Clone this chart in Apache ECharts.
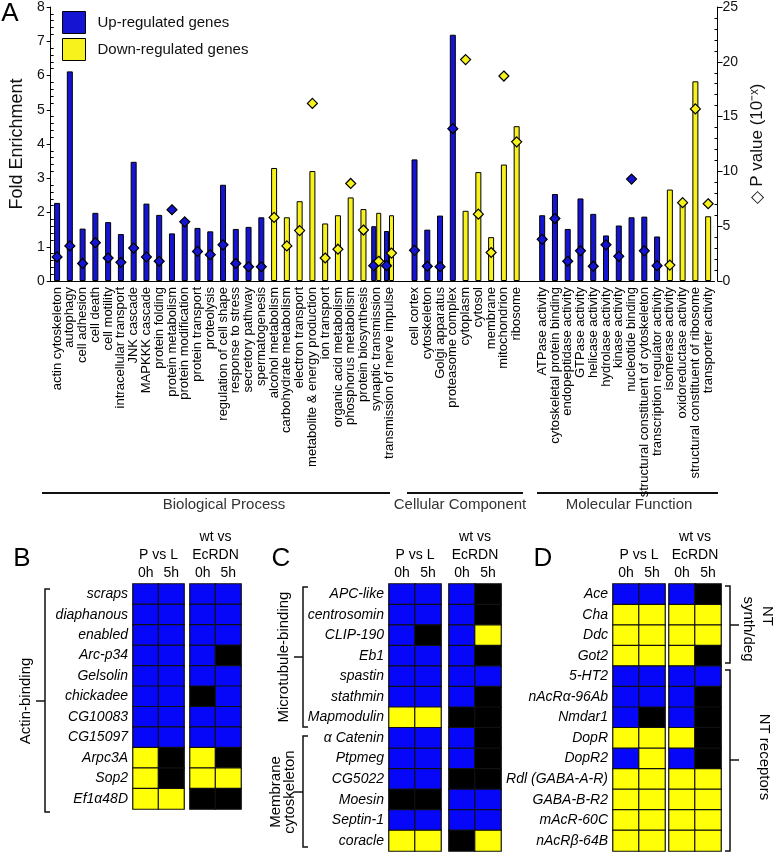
<!DOCTYPE html>
<html>
<head>
<meta charset="utf-8">
<script src="https://cdn.jsdelivr.net/npm/echarts@6/dist/echarts.min.js"></script>
<style>
html, body { margin: 0; padding: 0; background: #fff; }
#chart { width: 774px; height: 853px; }
</style>
</head>
<body>
<div id="chart"></div>
<script>
// panel A: GO terms, '' and ' ' are the empty slots between the three groups
const categories = [
  'actin cytoskeleton', 'autophagy', 'cell adhesion', 'cell death', 'cell motility',
  'intracellular transport', 'JNK cascade', 'MAPKKK cascade', 'protein folding',
  'protein metabolism', 'protein modification', 'protein transport', 'proteolysis',
  'regulation of cell shape', 'response to stress', 'secretory pathway', 'spermatogenesis',
  'alcohol metabolism', 'carbohydrate metabolism', 'electron transport',
  'metabolite & energy production', 'ion transport', 'organic acid metabolism',
  'phosphorus metabolism', 'protein biosynthesis', 'synaptic transmission',
  'transmission of nerve impulse', '',
  'cell cortex', 'cytoskeleton', 'Golgi apparatus', 'proteasome complex', 'cytoplasm',
  'cytosol', 'membrane', 'mitochondrion', 'ribosome', ' ',
  'ATPase activity', 'cytoskeletal protein binding', 'endopeptidase activity',
  'GTPase activity', 'helicase activity', 'hydrolase activity', 'kinase activity',
  'nucleotide binding', 'structural constituent of cytoskeleton',
  'transcription regulator activity', 'isomerase activity', 'oxidoreductase activity',
  'structural constituent of ribosome', 'transporter activity'
];

const upFold = [
  2.28, 6.12, 1.53, 1.99, 1.72, 1.37, 3.48, 2.26, 1.93, 1.39, 1.65, 1.55, 1.45, 2.81, 1.52, 1.58, 1.86,
  null, null, null, null, null, null, null, null, 1.60, 1.46, null,
  3.55, 1.50, 1.91, 7.19, null, null, null, null, null, null,
  1.92, 2.54, 1.52, 2.41, 1.96, 1.33, 1.62, 1.86, 1.88, 1.30, null, null, null, null
];
const downFold = [
  null, null, null, null, null, null, null, null, null, null, null, null, null, null, null, null, null,
  3.30, 1.86, 2.33, 3.21, 1.68, 1.92, 2.44, 2.10, 1.99, 1.92, null,
  null, null, null, null, 2.05, 3.18, 1.28, 3.40, 4.52, null,
  null, null, null, null, null, null, null, null, null, null, 2.67, 2.30, 5.83, 1.89
];
const upP = [
  2.2, 3.2, 1.6, 3.5, 2.1, 1.7, 3.0, 2.2, 1.8, 6.5, 5.4, 2.7, 2.4, 3.3, 1.6, 1.3, 1.3,
  null, null, null, null, null, null, null, null, 1.4, 1.4, null,
  2.8, 1.35, 1.3, 13.9, null, null, null, null, null, null,
  3.8, 5.7, 1.8, 2.75, 1.35, 3.3, 2.25, 9.3, 2.75, 1.4, null, null, null, null
];
const downP = [
  null, null, null, null, null, null, null, null, null, null, null, null, null, null, null, null, null,
  5.8, 3.2, 4.6, 16.2, 2.1, 2.9, 8.9, 4.65, 1.8, 2.55, null,
  null, null, null, null, 20.2, 6.1, 2.6, 18.7, 12.7, null,
  null, null, null, null, null, null, null, null, null, null, 1.45, 7.15, 15.7, 7.05
];

// panels B-D: 1 = up (blue), -1 = down (yellow), 0 = not changed (black)
// columns: P vs L 0h, 5h, wt vs EcRDN 0h, 5h
const timeLabels = ['0h', '5h'];
const bGenes = ['scraps', 'diaphanous', 'enabled', 'Arc-p34', 'Gelsolin', 'chickadee',
  'CG10083', 'CG15097', 'Arpc3A', 'Sop2', 'Ef1α48D'];
const bCalls = [
  [1, 1, 1, 1], [1, 1, 1, 1], [1, 1, 1, 1], [1, 1, 1, 0], [1, 1, 1, 1], [1, 1, 0, 1],
  [1, 1, 1, 1], [1, 1, 1, 1], [-1, 0, -1, 0], [-1, 0, -1, -1], [-1, -1, 0, 0]
];
const cGenes = ['APC-like', 'centrosomin', 'CLIP-190', 'Eb1', 'spastin', 'stathmin',
  'Mapmodulin', 'α Catenin', 'Ptpmeg', 'CG5022', 'Moesin', 'Septin-1', 'coracle'];
const cCalls = [
  [1, 1, 1, 0], [1, 1, 1, 0], [1, 0, 1, -1], [1, 1, 1, 0], [1, 1, 1, 1], [1, 1, 1, 0],
  [-1, -1, 0, 0], [1, 1, 1, 0], [1, 1, 1, 0], [1, 1, 0, 0], [0, 0, 1, 1], [1, 1, 1, 1],
  [-1, -1, 0, -1]
];
const dGenes = ['Ace', 'Cha', 'Ddc', 'Got2', '5-HT2', 'nAcRα-96Ab', 'Nmdar1', 'DopR',
  'DopR2', 'Rdl (GABA-A-R)', 'GABA-B-R2', 'mAcR-60C', 'nAcRβ-64B'];
const dCalls = [
  [1, 1, 1, 0], [-1, -1, -1, -1], [-1, -1, -1, -1], [-1, -1, -1, 0], [1, 1, 1, 1],
  [1, 1, 1, 0], [1, 0, 1, 0], [-1, -1, -1, 0], [1, -1, 1, 0], [-1, -1, -1, -1],
  [-1, -1, -1, -1], [-1, -1, -1, -1], [-1, -1, -1, -1]
];

const BLUE = '#1414d2';
const YELLOW = '#f7f21c';
const CELL_BLUE = '#0606f8';
const CELL_YELLOW = '#ffff08';
const FONT = 'Liberation Sans';

// a term has side-by-side bars when both lists have a value
const paired = categories.map((c, i) => upFold[i] != null && downFold[i] != null);
const soloUp = upFold.map((v, i) => paired[i] ? null : v);
const soloDown = downFold.map((v, i) => paired[i] ? null : v);
const pairUp = upFold.map((v, i) => paired[i] ? v : null);
const pairDown = downFold.map((v, i) => paired[i] ? v : null);

const diamonds = (vals, shift) => vals
  .map((v, i) => v == null ? null : { value: [i, v], symbolOffset: [paired[i] ? shift : 0, 0] })
  .filter(d => d);

const blockData = (calls, from) => {
  const out = [];
  calls.forEach((row, r) => {
    out.push([0, r, row[from]]);
    out.push([1, r, row[from + 1]]);
  });
  return out;
};

// heatmap blocks [left, top, width, height]
const blocks = [
  { genes: bGenes, calls: bCalls, left: [133, 584, 51, 225], right: [190, 584, 51, 225] },
  { genes: cGenes, calls: cCalls, left: [389, 584, 52, 267], right: [449, 584, 52, 267] },
  { genes: dGenes, calls: dCalls, left: [613, 584, 52, 267], right: [669, 584, 52, 267] }
];

const grids = [{ left: 42, top: 5, width: 677, height: 276 }];
const xAxes = [
  {
    type: 'category', data: categories, gridIndex: 0,
    axisLine: { lineStyle: { color: '#000', width: 1 } },
    axisTick: { interval: 0, length: 5, lineStyle: { color: '#000' } },
    axisLabel: { interval: 0, rotate: 90, fontSize: 13, margin: 6, color: '#000', fontFamily: FONT }
  },
  { type: 'category', data: categories, gridIndex: 0, show: false }
];
const yAxes = [
  {
    type: 'value', gridIndex: 0, min: 0, max: 8, interval: 1,
    axisLine: { show: true, lineStyle: { color: '#000' } },
    axisTick: { show: true, length: 4, lineStyle: { color: '#000' } },
    minorTick: { show: true, splitNumber: 5, length: -3, lineStyle: { color: '#000' } },
    splitLine: { show: false },
    axisLabel: { fontSize: 14, margin: 6, color: '#111', fontFamily: FONT },
    name: 'Fold Enrichment', nameLocation: 'middle', nameGap: 16,
    nameTextStyle: { fontSize: 18, color: '#111', fontFamily: FONT }
  },
  {
    type: 'value', gridIndex: 0, position: 'right', offset: 3, min: 0, max: 25, interval: 5,
    axisLine: { show: true, lineStyle: { color: '#000' } },
    axisTick: { show: true, length: 5, lineStyle: { color: '#000' } },
    minorTick: { show: true, splitNumber: 5, length: -3, lineStyle: { color: '#000' } },
    splitLine: { show: false },
    axisLabel: { fontSize: 14, margin: 5, color: '#111', fontFamily: FONT },
    name: '◇ P value (10⁻ˣ)', nameLocation: 'middle', nameGap: 28, nameRotate: 90,
    nameTextStyle: { fontSize: 17, color: '#111', fontFamily: FONT }
  }
];
const heatSeries = [];

blocks.forEach(b => {
  [['left', 'P vs L', 0], ['right', 'wt vs\nEcRDN', 2]].forEach(([side, title, from]) => {
    const g = grids.length;
    const box = b[side];
    grids.push({ left: box[0], top: box[1], width: box[2], height: box[3] });
    xAxes.push({
      type: 'category', data: timeLabels, gridIndex: g, position: 'top',
      axisLine: { show: false }, axisTick: { show: false },
      axisLabel: { fontSize: 14, margin: 4, color: '#000', fontFamily: FONT },
      name: title, nameLocation: 'middle', nameGap: 20,
      nameTextStyle: { fontSize: 14, lineHeight: 18, color: '#000', fontFamily: FONT }
    });
    yAxes.push({
      type: 'category', data: b.genes, gridIndex: g, inverse: true,
      axisLine: { show: false }, axisTick: { show: false },
      axisLabel: {
        show: side === 'left', fontSize: 14, margin: 5, fontStyle: 'italic',
        color: '#000', fontFamily: FONT
      }
    });
    heatSeries.push({
      type: 'heatmap', xAxisIndex: xAxes.length - 1, yAxisIndex: yAxes.length - 1,
      data: blockData(b.calls, from),
      itemStyle: { borderColor: '#111', borderWidth: 1.2 },
      emphasis: { disabled: true }
    });
  });
});

const barStyle = (color) => ({ color: color, borderColor: '#000', borderWidth: 1 });

const series = [
  { name: 'Up-regulated genes', type: 'bar', xAxisIndex: 0, yAxisIndex: 0, data: soloUp,
    barWidth: 6, barGap: '-100%', itemStyle: barStyle(BLUE) },
  { name: 'Down-regulated genes', type: 'bar', xAxisIndex: 0, yAxisIndex: 0, data: soloDown,
    barWidth: 6, barGap: '-100%', itemStyle: barStyle(YELLOW) },
  { name: 'Up-regulated genes', type: 'bar', xAxisIndex: 1, yAxisIndex: 0, data: pairUp,
    barWidth: 5, barGap: 0, itemStyle: barStyle(BLUE) },
  { name: 'Down-regulated genes', type: 'bar', xAxisIndex: 1, yAxisIndex: 0, data: pairDown,
    barWidth: 5, barGap: 0, itemStyle: barStyle(YELLOW) },
  { name: 'up P', type: 'scatter', xAxisIndex: 0, yAxisIndex: 1, data: diamonds(upP, -2.5),
    symbol: 'diamond', symbolSize: [10, 10], z: 5,
    itemStyle: { color: BLUE, borderColor: '#000', borderWidth: 1.2, opacity: 1 } },
  { name: 'down P', type: 'scatter', xAxisIndex: 0, yAxisIndex: 1, data: diamonds(downP, 2.5),
    symbol: 'diamond', symbolSize: [10, 10], z: 5,
    itemStyle: { color: YELLOW, borderColor: '#000', borderWidth: 1.2, opacity: 1 } }
].concat(heatSeries);

const heatIdx = heatSeries.map((s, i) => 6 + i);

const txt = (x, y, text, size, extra) => ({
  type: 'text', x: x, y: y,
  style: Object.assign({ text: text, fontSize: size, fontFamily: FONT, fill: '#000',
    align: 'center', verticalAlign: 'middle' }, extra || {})
});
const rotTxt = (x, y, text, size, rot) => ({
  type: 'text', x: x, y: y, rotation: rot,
  style: { text: text, fontSize: size, fontFamily: FONT, fill: '#000', align: 'center',
    verticalAlign: 'middle', lineHeight: 14 }
});
const line = (pts, w) => ({
  type: 'polyline', shape: { points: pts },
  style: { stroke: '#111', lineWidth: w || 1.5, fill: null }
});
// bracket opening towards the heatmap; dir = 1 opens right, -1 opens left
const bracket = (x, top, bottom, mid, dir) => [
  line([[x + 5 * dir, top], [x, top], [x, bottom], [x + 5 * dir, bottom]]),
  line([[x, mid], [x - 9 * dir, mid]])
];

const graphics = [
  txt(10, 14, 'A', 26), txt(22, 559, 'B', 26), txt(281, 559, 'C', 26), txt(543, 559, 'D', 26),
  line([[42, 493], [390, 493]], 2), line([[407, 493], [523, 493]], 2), line([[537, 493], [718, 493]], 2),
  txt(224, 505, 'Biological Process', 15, { fill: '#333' }),
  txt(460, 505, 'Cellular Component', 15, { fill: '#333' }),
  txt(629, 505, 'Molecular Function', 15, { fill: '#333' }),
  rotTxt(26, 701, 'Actin-binding', 15, Math.PI / 2),
  rotTxt(284, 657, 'Microtubule-binding', 15, Math.PI / 2),
  rotTxt(283, 792, 'Membrane\ncytoskeleton', 15, Math.PI / 2),
  rotTxt(767, 616, 'NT', 15, -Math.PI / 2),
  rotTxt(748, 629, 'synth/deg', 15, -Math.PI / 2),
  rotTxt(764, 757, 'NT receptors', 15, -Math.PI / 2)
].concat(
  bracket(45, 589, 812, 701, 1),
  bracket(303, 587, 727, 657, 1),
  bracket(303, 736, 847, 792, 1),
  bracket(730, 586, 663, 625, -1),
  bracket(730, 670, 851, 760, -1)
);

const chart = echarts.init(document.getElementById('chart'), null, { renderer: 'canvas' });
chart.setOption({
  animation: false,
  backgroundColor: '#fff',
  textStyle: { fontFamily: FONT },
  legend: {
    data: ['Up-regulated genes', 'Down-regulated genes'],
    orient: 'vertical', left: 57, top: 6, icon: 'rect',
    itemWidth: 23, itemHeight: 22, itemGap: 4,
    itemStyle: { borderColor: '#000', borderWidth: 1 },
    textStyle: { fontSize: 15, color: '#111', padding: [0, 0, 0, 7] }
  },
  visualMap: {
    type: 'piecewise', show: false, seriesIndex: heatIdx, dimension: 2,
    pieces: [
      { value: 1, color: CELL_BLUE },
      { value: -1, color: CELL_YELLOW },
      { value: 0, color: '#000' }
    ]
  },
  grid: grids,
  xAxis: xAxes,
  yAxis: yAxes,
  series: series,
  graphic: graphics
});
</script>
</body>
</html>
